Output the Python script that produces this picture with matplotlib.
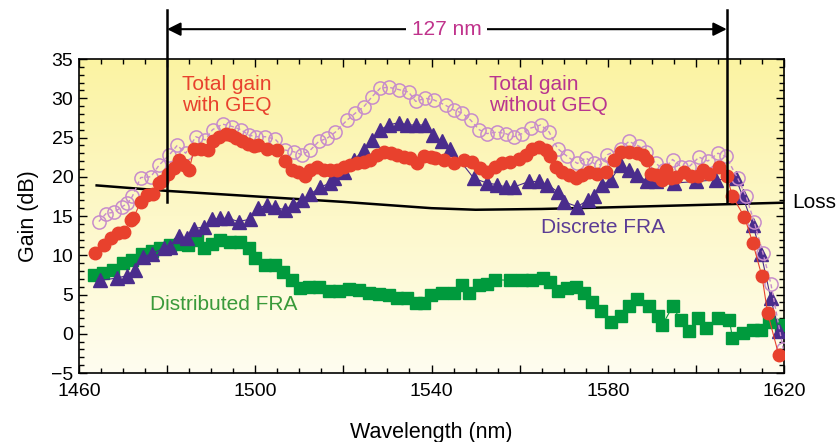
import matplotlib
matplotlib.use("Agg")
import matplotlib.pyplot as plt
from matplotlib.ticker import MultipleLocator, FuncFormatter
from matplotlib.colors import LinearSegmentedColormap
import numpy as np

plt.rcParams['font.family'] = ['Liberation Sans', 'DejaVu Sans']

# Total gain with GEQ (filled red circles)
wl_geq = [1463.6, 1465.7, 1467.2, 1468.9, 1470.2, 1471.7, 1472.3, 1474.0, 1475.5, 1476.7,
          1478.2, 1478.9, 1480.3, 1481.6, 1482.7, 1483.9, 1485.0, 1486.1, 1487.6, 1489.2,
          1490.3, 1491.8, 1493.3, 1494.5, 1495.6, 1497.1, 1498.3, 1499.8, 1500.7, 1502.6,
          1504.9, 1506.7, 1508.3, 1509.8, 1511.2, 1512.5, 1514.0, 1515.5, 1517.0, 1518.6,
          1520.1, 1521.6, 1523.1, 1524.6, 1526.1, 1527.7, 1529.2, 1530.7, 1532.2, 1533.7,
          1535.2, 1536.7, 1538.3, 1539.8, 1540.9, 1542.8, 1545.1, 1547.4, 1549.2, 1551.1,
          1552.6, 1554.5, 1556.0, 1557.9, 1559.8, 1561.4, 1562.9, 1564.4, 1565.9, 1567.0,
          1568.2, 1569.7, 1571.2, 1572.7, 1574.2, 1575.8, 1577.6, 1579.5, 1581.4, 1582.9,
          1584.8, 1586.7, 1587.9, 1589.0, 1589.8, 1590.9, 1592.4, 1593.2, 1594.3, 1595.5,
          1597.3, 1598.9, 1600.4, 1601.5, 1603.0, 1605.3, 1607.0, 1608.3, 1611.0, 1612.9,
          1615.0, 1616.3, 1618.8]
gain_geq = [10.3, 11.3, 12.2, 12.8, 13.0, 14.5, 14.7, 16.8, 17.7, 17.8,
            19.2, 19.4, 20.4, 21.1, 22.1, 21.5, 20.9, 23.5, 23.5, 23.4,
            24.5, 25.1, 25.5, 25.3, 24.9, 24.5, 24.2, 23.9, 24.0, 23.6,
            23.4, 22.0, 20.9, 20.6, 20.1, 20.9, 21.2, 20.9, 20.8, 20.9,
            21.3, 21.5, 21.7, 21.9, 22.1, 22.8, 23.2, 23.0, 22.8, 22.5,
            22.4, 21.7, 22.6, 22.5, 22.4, 22.1, 21.7, 22.1, 21.9, 21.1,
            20.6, 21.3, 21.7, 21.9, 22.3, 22.8, 23.6, 23.8, 23.4, 22.6,
            21.3, 20.6, 20.2, 19.8, 20.2, 20.6, 20.4, 20.6, 22.1, 23.1,
            23.2, 23.0, 22.8, 22.2, 20.4, 20.2, 19.6, 20.9, 19.8, 20.0,
            20.6, 20.1, 20.1, 20.9, 20.4, 21.3, 20.1, 17.5, 14.9, 11.6,
            7.3, 2.6, -2.7]

# Total gain without GEQ (open purple circles)
wl_nogeq = [1464.5, 1466.1, 1468.0, 1469.8, 1471.0, 1472.1, 1474.0, 1476.3, 1478.2, 1480.5,
            1482.3, 1484.2, 1486.5, 1488.6, 1490.3, 1492.6, 1494.8, 1496.7, 1498.6, 1500.2,
            1502.3, 1504.5, 1506.8, 1508.7, 1510.6, 1512.5, 1514.4, 1516.3, 1518.2, 1520.8,
            1522.7, 1524.6, 1526.5, 1528.4, 1530.3, 1532.6, 1534.8, 1536.4, 1538.6, 1540.5,
            1543.2, 1545.1, 1547.0, 1548.9, 1550.8, 1552.6, 1554.9, 1556.8, 1558.7, 1560.6,
            1562.5, 1564.8, 1566.7, 1568.6, 1570.8, 1573.1, 1575.0, 1576.9, 1578.4, 1579.9,
            1582.9, 1584.8, 1587.1, 1588.6, 1590.9, 1592.8, 1594.7, 1596.6, 1598.5, 1600.7,
            1602.7, 1605.0, 1606.8, 1609.5, 1611.4, 1613.2, 1615.2, 1617.0, 1619.8]
gain_nogeq = [14.3, 15.3, 15.5, 16.2, 16.6, 17.5, 19.9, 20.0, 21.5, 22.8,
              24.0, 23.0, 25.1, 24.7, 26.0, 26.7, 26.4, 26.0, 25.3, 25.1,
              25.1, 24.8, 23.4, 23.2, 22.8, 23.4, 24.5, 24.9, 25.7, 27.2,
              28.1, 28.9, 30.2, 31.3, 31.4, 31.1, 30.8, 29.6, 30.0, 29.8,
              29.1, 28.5, 28.1, 27.2, 26.0, 25.5, 25.7, 25.5, 25.1, 25.5,
              26.2, 26.6, 25.7, 23.6, 22.6, 21.7, 22.4, 21.7, 21.5, 22.8,
              23.6, 24.5, 23.9, 23.2, 21.7, 20.9, 22.2, 21.3, 21.3, 22.5,
              22.0, 23.0, 22.6, 19.8, 17.5, 14.3, 10.3, 6.4, -1.9]

# Discrete FRA (purple triangles)
wl_disc = [1464.8, 1468.6, 1470.8, 1472.7, 1474.6, 1476.5, 1479.2, 1480.7, 1482.6, 1484.5,
           1486.0, 1488.3, 1490.2, 1492.0, 1493.9, 1496.2, 1498.9, 1500.6, 1502.6, 1504.5,
           1506.7, 1508.5, 1510.6, 1512.5, 1514.8, 1517.0, 1517.8, 1520.1, 1522.3, 1524.6,
           1526.5, 1528.4, 1530.3, 1532.6, 1534.5, 1536.4, 1538.6, 1540.3, 1542.4, 1544.3,
           1549.6, 1552.6, 1554.9, 1556.8, 1558.7, 1562.1, 1564.4, 1566.3, 1568.6, 1570.1,
           1573.1, 1575.4, 1576.9, 1578.8, 1580.7, 1582.9, 1584.8, 1586.7, 1589.0, 1590.9,
           1595.1, 1600.0, 1604.5, 1609.1, 1610.6, 1612.9, 1614.8, 1617.0, 1618.8]
gain_disc = [6.8, 7.1, 7.4, 8.1, 9.8, 10.2, 10.9, 11.1, 12.4, 12.2,
             13.4, 13.6, 14.6, 14.7, 14.7, 14.3, 14.6, 16.0, 16.4, 16.1,
             15.8, 16.4, 17.0, 17.8, 18.7, 19.2, 19.8, 20.6, 22.1, 23.4,
             24.7, 26.0, 26.6, 26.9, 26.6, 26.6, 26.6, 25.3, 24.5, 23.6,
             19.8, 19.2, 19.0, 18.7, 18.7, 19.4, 19.4, 19.0, 18.1, 16.8,
             16.2, 17.0, 17.5, 19.0, 19.6, 21.5, 20.9, 20.2, 19.4, 19.4,
             19.2, 19.4, 19.6, 19.8, 17.5, 13.9, 10.2, 4.5, 0.3]

# Distributed FRA (green squares)
wl_dist = [1463.3, 1465.5, 1467.8, 1469.9, 1472.0, 1474.2, 1476.5, 1478.4, 1480.7, 1482.9,
           1484.8, 1486.7, 1488.3, 1490.2, 1492.0, 1494.3, 1496.6, 1498.5, 1500.0, 1502.3,
           1504.5, 1506.4, 1508.3, 1510.2, 1512.1, 1514.4, 1516.7, 1518.9, 1521.2, 1523.5,
           1525.8, 1528.0, 1530.3, 1532.2, 1534.5, 1536.4, 1538.3, 1539.8, 1542.4, 1545.1,
           1547.0, 1548.5, 1550.8, 1552.6, 1554.5, 1557.9, 1560.6, 1562.9, 1565.2, 1567.0,
           1568.6, 1570.8, 1572.7, 1574.6, 1576.5, 1578.4, 1580.7, 1582.9, 1584.8, 1586.7,
           1589.4, 1591.3, 1592.4, 1594.7, 1596.6, 1598.5, 1600.4, 1602.3, 1605.0, 1607.6,
           1608.3, 1610.6, 1612.9, 1614.8, 1616.7, 1619.3]
gain_dist = [7.5, 7.8, 8.1, 9.0, 9.4, 10.2, 10.5, 10.9, 11.3, 11.5,
             11.3, 11.9, 10.9, 11.5, 12.0, 11.7, 11.7, 10.9, 9.6, 8.8,
             8.8, 7.9, 6.8, 5.8, 6.0, 5.9, 5.4, 5.4, 5.7, 5.6,
             5.2, 5.1, 4.9, 4.5, 4.5, 3.9, 3.9, 4.9, 5.2, 5.2,
             6.2, 5.2, 6.2, 6.4, 6.9, 6.8, 6.8, 6.8, 7.1, 6.6,
             5.4, 5.8, 5.9, 5.2, 4.1, 2.9, 1.5, 2.3, 3.5, 4.4,
             3.5, 2.3, 1.1, 3.5, 1.7, 0.4, 2.0, 0.8, 2.0, 1.7,
             -0.5, 0.1, 0.5, 0.5, 1.5, 1.1]

# Loss curve
wl_loss = [1464, 1480, 1500, 1520, 1540, 1550, 1565, 1580, 1600, 1620]
gain_loss = [18.9, 18.2, 17.5, 16.8, 16.0, 15.8, 15.9, 16.1, 16.4, 16.7]

band_edges = [1480, 1607]
band_label = "127 nm"

RED = '#e8412d'
PINK = '#c78ccb'
INDIGO = '#4a2c8c'
GREEN = '#009a3d'
FS = 14      # tick labels
FS_TXT = 15  # annotations
FS_LAB = 15.5

fig = plt.figure(figsize=(8.38, 4.42), dpi=100)
ax = fig.add_axes([0.0943, 0.156, 0.8413, 0.7105])

# pale yellow at the top fading to near-white at the bottom
# origin='lower': row 0 sits at gain -5, last row at gain 35
grad = np.linspace(1, 0, 256).reshape(-1, 1)
bg = LinearSegmentedColormap.from_list('bg', ['#fbf3a2', '#fffdf0'])
ax.imshow(grad, cmap=bg, vmin=0, vmax=1, aspect='auto',
          extent=[1460, 1620, -5, 35], origin='lower', zorder=0)

ax.plot(wl_loss, gain_loss, color='black', lw=1.8, zorder=2)

ax.plot(wl_dist, gain_dist, color=GREEN, lw=0.8, marker='s', ms=9,
        mec=GREEN, mfc=GREEN, zorder=3)
ax.plot(wl_disc, gain_disc, color=INDIGO, lw=0.8, marker='^', ms=9.5,
        mec=INDIGO, mfc=INDIGO, zorder=4)
ax.plot(wl_nogeq, gain_nogeq, color=PINK, lw=1.0, ls=(0, (3, 2)), marker='o', ms=9.5,
        mfc='none', mec=PINK, mew=1.1, zorder=5)
ax.plot(wl_geq, gain_geq, color=RED, lw=0.8, marker='o', ms=9,
        mec=RED, mfc=RED, zorder=6)

# band markers and arrow
for x in band_edges:
    ax.plot([x, x], [41.2, 16.8], color='black', lw=1.8, clip_on=False, zorder=7)
ax.annotate('', xy=(band_edges[0], 38.8), xytext=(band_edges[1], 38.8),
            xycoords='data', annotation_clip=False,
            arrowprops=dict(arrowstyle='<|-|>', color='black', lw=1.5,
                            mutation_scale=20, shrinkA=0, shrinkB=0))
ax.text(sum(band_edges) / 2, 38.8, band_label, color='#c0338c', fontsize=FS_TXT,
        ha='center', va='center', zorder=8,
        bbox=dict(facecolor='white', edgecolor='none', pad=4))

ax.text(1483.4, 30.4, "Total gain\nwith GEQ", color=RED, fontsize=FS_TXT,
        ha='left', va='center', linespacing=1.15, zorder=8)
ax.text(1553.0, 30.4, "Total gain\nwithout GEQ", color='#b8358f', fontsize=FS_TXT,
        ha='left', va='center', linespacing=1.15, zorder=8)
ax.text(1564.8, 13.5, "Discrete FRA", color='#5b3c95', fontsize=FS_TXT,
        ha='left', va='center', zorder=8)
ax.text(1476.1, 3.7, "Distributed FRA", color='#3a9a3a', fontsize=FS_TXT,
        ha='left', va='center', zorder=8)
ax.text(1621.8, 16.7, "Loss", color='black', fontsize=FS_TXT,
        ha='left', va='center', clip_on=False)

ax.set_xlim(1460, 1620)
ax.set_ylim(-5, 35)
ax.xaxis.set_major_locator(MultipleLocator(20))
ax.xaxis.set_minor_locator(MultipleLocator(5))
ax.xaxis.set_major_formatter(FuncFormatter(lambda v, p: f"{int(v)}" if int(v) % 40 == 20 else ""))
ax.yaxis.set_major_locator(MultipleLocator(5))
ax.yaxis.set_minor_locator(MultipleLocator(1))
ax.tick_params(which='both', direction='in', top=True, right=True, labelsize=FS, width=1)
ax.tick_params(which='major', length=6)
ax.tick_params(which='minor', length=3.5)
ax.tick_params(axis='x', pad=7)
ax.tick_params(axis='y', pad=4)
for s in ax.spines.values():
    s.set_linewidth(1.2)

ax.set_xlabel("Wavelength (nm)", fontsize=FS_LAB, labelpad=16)
ax.set_ylabel("Gain (dB)", fontsize=FS_LAB, labelpad=9)

fig.savefig("out.png", dpi=100)
